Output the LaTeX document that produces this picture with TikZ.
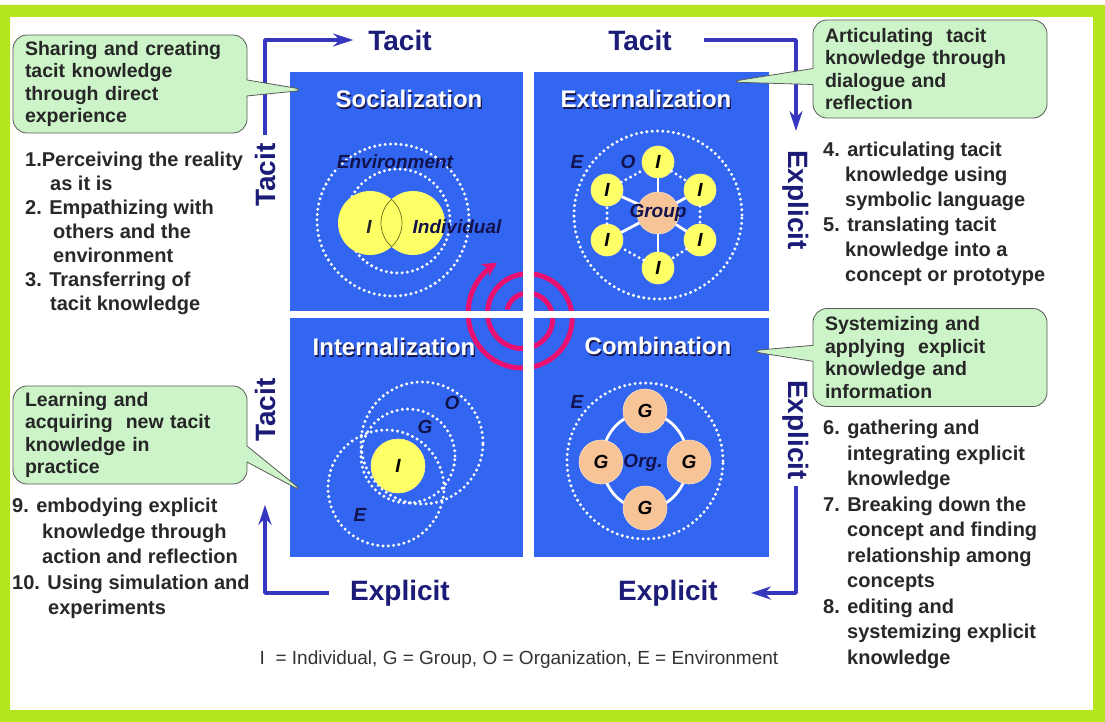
\documentclass[tikz,border=0pt]{standalone}
\usepackage{fontspec}
\setmainfont{Liberation Sans}
\usepackage{tikz}
\usetikzlibrary{arrows.meta, positioning, shapes, shapes.callouts, calc}

\definecolor{framegreen}{RGB}{181,230,29}
\definecolor{quadblue}{RGB}{50,102,240}
\definecolor{axisline}{RGB}{55,55,190}
\definecolor{axistext}{RGB}{28,28,120}
\definecolor{notegreen}{RGB}{204,244,200}
\definecolor{indyellow}{RGB}{255,255,102}
\definecolor{grppeach}{RGB}{246,196,150}
\definecolor{spiralpink}{RGB}{232,16,112}
\definecolor{labelnavy}{RGB}{18,18,78}
\definecolor{listgray}{RGB}{40,40,40}
\definecolor{titleshadow}{RGB}{25,25,80}

\newcommand\qtitle[1]{\rlap{\kern1.2pt\raisebox{-1.2pt}{\color{titleshadow}#1}}#1}

\tikzset{
  quad/.style={fill=quadblue, minimum height=239pt, inner sep=0pt},
  qname/.style={text=white, inner sep=0pt, font=\fontsize{24}{28}\selectfont\bfseries},
  dotring/.style={white, line width=3.3pt, line cap=round, dash pattern=on 0pt off 5.3pt},
  spoke/.style={white, line width=2.8pt},
  ind/.style={circle, fill=indyellow, draw=yellow!50!white, line width=0.6pt, minimum size=32pt,
    inner sep=0pt, font=\fontsize{19}{22}\selectfont\bfseries\itshape},
  grp/.style={circle, fill=grppeach, draw=grppeach!60!white, line width=0.6pt, minimum size=44pt,
    inner sep=0pt, font=\fontsize{19}{22}\selectfont\bfseries\itshape},
  tag/.style={text=labelnavy, inner sep=0pt, font=\fontsize{19}{22}\selectfont\bfseries\itshape},
  axisarrow/.style={axisline, line width=4pt},
  axislabel/.style={text=axistext, inner sep=0pt, font=\fontsize{28}{32}\selectfont\bfseries},
  note/.style={rectangle callout, draw=gray!70!black, fill=notegreen, line width=0.8pt,
    rounded corners=14pt, minimum width=234pt, minimum height=98pt, text width=210pt,
    inner xsep=12pt, align=left, callout pointer width=16pt, text=black!85,
    font=\fontsize{19.5}{22.5}\selectfont\bfseries},
  itemlist/.style={anchor=north west, inner sep=0pt, align=left, text=listgray,
    font=\fontsize{20}{24}\selectfont\bfseries}
}

\begin{document}
\begin{tikzpicture}[x=1pt, y=-1pt, >={Stealth[length=20pt,width=13pt]}, line join=bevel]
\useasboundingbox (0,0) rectangle (1105,722);
\fill[white] (0,0) rectangle (1105,722);

% Node: quadrants
\node[quad, minimum width=233pt] (soc) at (406.5,191.5) {};
\node[quad, minimum width=235pt] (ext) at (651.5,191.5) {};
\node[quad, minimum width=233pt] (int) at (406.5,437.5) {};
\node[quad, minimum width=235pt] (com) at (651.5,437.5) {};

% Spiral
\draw[spiralpink, line width=5pt, -{Stealth[length=14pt,width=15pt]}]
  plot[domain=200:962, samples=160, smooth, variable=\t]
  ({525+(8+0.0541667*\t)*cos(\t)}, {316+(8+0.0541667*\t)*sin(\t)});
\fill[white] (523,72) rectangle (534,557);
\fill[white] (290,311) rectangle (769,318);

% Node: titles
\node[qname] (socT) at (409,100) {\qtitle{Socialization}};
\node[qname] (extT) at (646,100) {\qtitle{Externalization}};
\node[qname] (intT) at (394,348) {\qtitle{Internalization}};
\node[qname] (comT) at (658,347) {\qtitle{Combination}};

% Socialization
\draw[dotring] (393,220) circle[radius=76pt];
\draw[dotring] (398,221) circle[radius=52pt];
\node[ind, minimum size=64pt, draw=none] (iA) at (370,223) {};
\node[ind, minimum size=64pt, draw=none] (iB) at (413,223) {};
\begin{scope}
  \clip (iB) circle[radius=32pt];
  \draw[olive!70!black, line width=0.7pt] (iA) circle[radius=32pt];
\end{scope}
\begin{scope}
  \clip (iA) circle[radius=32pt];
  \draw[olive!70!black, line width=0.7pt] (iB) circle[radius=32pt];
\end{scope}
\node[tag, text=black!85] (iAt) at (369,227) {I};
\node[tag] (indv) at (457,227) {Individual};
\node[tag] (env) at (395,162) {Environment};

% Externalization
\draw[dotring] (658,215) circle[radius=84pt];
\node[grp, minimum size=42pt] (grp) at (658,213) {};
\node[ind] (i1) at (658,162) {I};
\node[ind] (i2) at (700,190) {I};
\node[ind] (i3) at (700,240) {I};
\node[ind] (i4) at (658,268) {I};
\node[ind] (i5) at (607,240) {I};
\node[ind] (i6) at (607,190) {I};
% Edge: group -- members
\foreach \m in {i1,i2,i3,i4,i5,i6}
  \draw[spoke] (grp) -- (\m);
% Edge: member -- member
\draw[dotring] (i1) -- (i2);
\draw[dotring] (i2) -- (i3);
\draw[dotring] (i3) -- (i4);
\draw[dotring] (i4) -- (i5);
\draw[dotring] (i5) -- (i6);
\draw[dotring] (i6) -- (i1);
\node[tag] (grpT) at (grp) {Group};
\node[tag] (extE) at (577,162) {E};
\node[tag] (extO) at (628,162) {O};

% Internalization
\draw[dotring] (386,488) circle[radius=58pt];
\draw[dotring] (422,443) circle[radius=61pt];
\draw[dotring] (408,456) circle[radius=47pt];
\node[ind, minimum size=54pt] (iI) at (398,466) {I};
\node[tag] (intO) at (452,403) {O};
\node[tag] (intG) at (425,427) {G};
\node[tag] (intE) at (360,515) {E};

% Combination
\draw[dotring] (645,461) circle[radius=78pt];
\draw[spoke] (645,461) ellipse[x radius=43pt, y radius=48pt];
\node[grp] (g1) at (645,411) {G};
\node[grp] (g2) at (689,462) {G};
\node[grp] (g3) at (645,508) {G};
\node[grp] (g4) at (601,462) {G};
\node[tag] (org) at (643,463) {Org.};
\node[tag] (comE) at (577,402) {E};

% Node: axis labels
\node[axislabel] (tacitT) at (400,40) {Tacit};
\node[axislabel] (tacitE) at (640,40) {Tacit};
\node[axislabel, rotate=90] (tacitL) at (265,175) {Tacit};
\node[axislabel, rotate=90] (tacitI) at (265,410) {Tacit};
\node[axislabel, rotate=-90] (explE) at (796,200) {Explicit};
\node[axislabel, rotate=-90] (explC) at (796,430) {Explicit};
\node[axislabel] (explW) at (400,593) {Explicit};
\node[axislabel] (explS) at (668,593) {Explicit};

% Edge: axis arrows
\draw[axisarrow, ->, shorten <=8pt, shorten >=15pt] (tacitL.east) |- (tacitT.west);
\draw[axisarrow, ->, shorten <=32pt, shorten >=19pt] (tacitE.east) -| (explE.west);
\draw[axisarrow, ->, shorten <=6pt, shorten >=33pt] (explC.east) |- (explS.east);
\draw[axisarrow, ->, shorten <=21pt, shorten >=63pt] (explW.west) -| (tacitI.west);

% Node: callouts
\coordinate (p1) at (307,90);
\coordinate (p2) at (728,82);
\coordinate (p3) at (748,351);
\coordinate (p4) at (305,493);
\node[note, callout absolute pointer={(p1)}] (noteS) at (130,84)
  {Sharing and creating\\tacit knowledge\\through direct\\experience};
\node[note, callout absolute pointer={(p2)}] (noteE) at (930,69)
  {Articulating\ \ tacit\\knowledge through\\dialogue and\\reflection};
\node[note, callout absolute pointer={(p3)}] (noteC) at (930,357.5)
  {Systemizing and\\applying\ \ explicit\\knowledge and\\information};
\node[note, callout absolute pointer={(p4)}] (noteI) at (130,435)
  {Learning and\\acquiring\ \ new tacit\\knowledge in\\practice};

% Node: lists
\node[itemlist] (listS) at (25,152)
  {1.Perceiving the reality\\\hspace*{25pt}as it is\\2. Empathizing with\\\hspace*{28pt}others and the\\
   \hspace*{28pt}environment\\3. Transferring of\\\hspace*{25pt}tacit knowledge};
\node[itemlist, font=\fontsize{20}{25}\selectfont\bfseries] (listE) at (823,142)
  {4. articulating tacit\\\hspace*{22pt}knowledge using\\\hspace*{22pt}symbolic language\\
   5. translating tacit\\\hspace*{22pt}knowledge into a\\\hspace*{22pt}concept or prototype};
\node[itemlist, font=\fontsize{20}{25.5}\selectfont\bfseries] (listC) at (823,420)
  {6. gathering and\\\hspace*{24pt}integrating explicit\\\hspace*{24pt}knowledge\\
   7. Breaking down the\\\hspace*{24pt}concept and finding\\\hspace*{24pt}relationship among\\
   \hspace*{24pt}concepts\\8. editing and\\\hspace*{24pt}systemizing explicit\\\hspace*{24pt}knowledge};
\node[itemlist, font=\fontsize{20}{25.5}\selectfont\bfseries] (listI) at (12,498)
  {9. embodying explicit\\\hspace*{30pt}knowledge through\\\hspace*{30pt}action and reflection\\
   10. Using simulation and\\\hspace*{36pt}experiments};

% Node: legend
\node[inner sep=0pt, text=black!80, font=\fontsize{19}{22}\selectfont] (legend) at (519,660)
  {I\ \ = Individual, G = Group, O = Organization, E = Environment};

% Frame
\fill[framegreen, even odd rule] (0,5) rectangle (1105,722) (10,17) rectangle (1093,710);
\end{tikzpicture}
\end{document}
